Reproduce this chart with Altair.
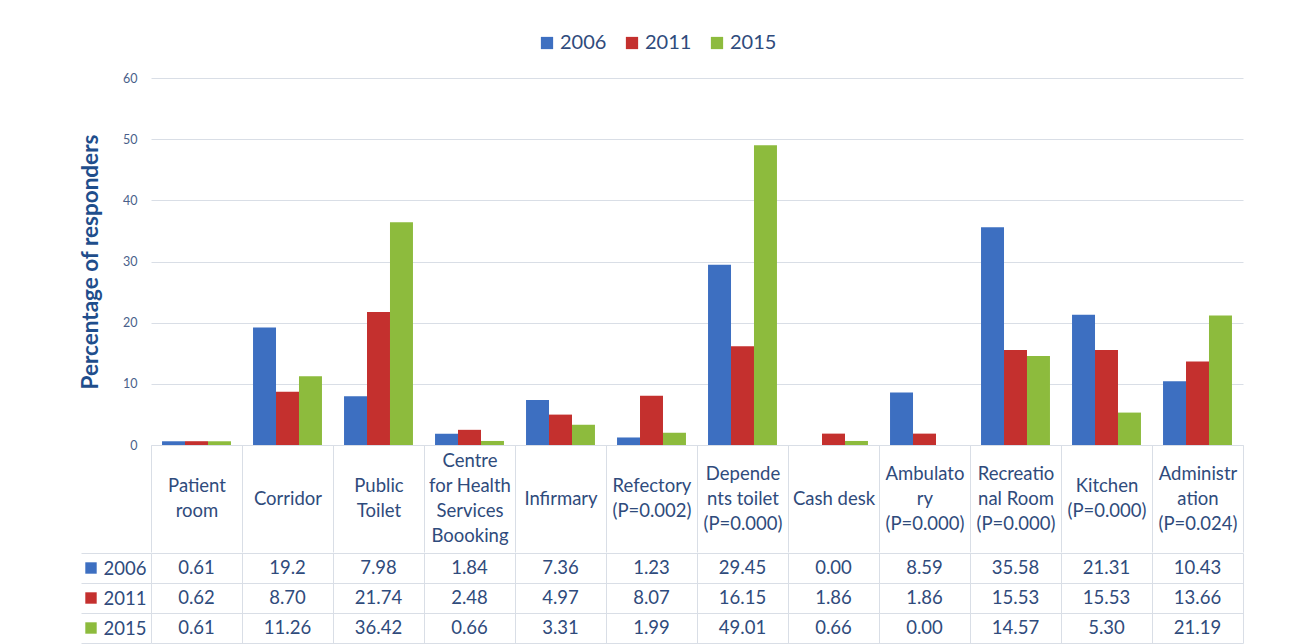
import json
import altair as alt
import pandas as pd

categories = [
    "Patient room", "Corridor", "Public Toilet", "Centre for Health Services Boooking",
    "Infirmary", "Refectory (P=0.002)", "Dependents toilet (P=0.000)", "Cash desk",
    "Ambulatory (P=0.000)", "Recreational Room (P=0.000)", "Kitchen (P=0.000)",
    "Administration (P=0.024)",
]
category_lines = [
    ["Patient", "room"], ["Corridor"], ["Public", "Toilet"],
    ["Centre", "for Health", "Services", "Boooking"], ["Infirmary"],
    ["Refectory", "(P=0.002)"], ["Depende", "nts toilet", "(P=0.000)"], ["Cash desk"],
    ["Ambulato", "ry", "(P=0.000)"], ["Recreatio", "nal Room", "(P=0.000)"],
    ["Kitchen", "(P=0.000)"], ["Administr", "ation", "(P=0.024)"],
]
years = ["2006", "2011", "2015"]
vals_2006 = ["0.61", "19.2", "7.98", "1.84", "7.36", "1.23", "29.45", "0.00", "8.59", "35.58", "21.31", "10.43"]
vals_2011 = ["0.62", "8.70", "21.74", "2.48", "4.97", "8.07", "16.15", "1.86", "1.86", "15.53", "15.53", "13.66"]
vals_2015 = ["0.61", "11.26", "36.42", "0.66", "3.31", "1.99", "49.01", "0.66", "0.00", "14.57", "5.30", "21.19"]
colors = ["#3D6FC1", "#C4302E", "#8DBB3D"]
y_ticks = [0, 10, 20, 30, 40, 50, 60]

rows = []
for yr, vals in zip(years, [vals_2006, vals_2011, vals_2015]):
    for c, v in zip(categories, vals):
        rows.append({"category": c, "year": yr, "label": v, "value": float(v)})
df = pd.DataFrame(rows)
df_years = pd.DataFrame({"year": years})

FONT = "Lato"
TEXT = "#2F4B7C"
GRID = "#D9DEE6"
LINE_H = 25

# multi-line category labels, each block vertically centred in the header cell
label_map = {c: lines for c, lines in zip(categories, category_lines)}
label_expr = "(" + json.dumps(label_map) + ")[datum.label]"
pad_conditions = []
for n in sorted(set(len(l) for l in category_lines)):
    names = [c for c, l in zip(categories, category_lines) if len(l) == n]
    pad_conditions.append({
        "test": "indexof(" + json.dumps(names) + ", datum.value) >= 0",
        "value": -54 - (n - 1) * LINE_H / 2,
    })

color_scale = alt.Scale(domain=years, range=colors)

bars = alt.Chart(df).mark_bar().encode(
    x=alt.X("category:N", sort=categories,
            scale=alt.Scale(paddingInner=0, paddingOuter=0),
            axis=alt.Axis(title=None, labelExpr=label_expr, labelAngle=0,
                          labelBaseline="middle", labelAlign="center",
                          labelPadding={"condition": pad_conditions, "value": -54},
                          labelFontSize=18.5, labelColor=TEXT, labelLineHeight=LINE_H,
                          labelOverlap=False, labelBound=False, labelFlush=False, labelLimit=0,
                          tickBand="extent", tickSize=107, tickColor=GRID, domainColor=GRID)),
    xOffset=alt.XOffset("year:N", sort=years,
                        scale=alt.Scale(paddingInner=0, paddingOuter=0.48)),
    y=alt.Y("value:Q", scale=alt.Scale(domain=[0, 60]),
            axis=alt.Axis(values=y_ticks, title="Percentage of responders",
                          titleFontSize=22.5, titleFontWeight="bold", titleColor="#1F4E8C",
                          titlePadding=20, labelFontSize=12.5, labelColor="#4A5F8A",
                          labelPadding=14, ticks=False, domain=False,
                          gridColor=GRID)),
    color=alt.Color("year:N", scale=color_scale, title=None,
                    legend=alt.Legend(orient="none", direction="horizontal",
                                      legendX=386, legendY=-45,
                                      symbolType="square", symbolSize=150,
                                      symbolStrokeWidth=0, labelFontSize=20,
                                      labelColor=TEXT, columnPadding=15, labelOffset=3)),
).properties(width=1092, height=367)

table_text = alt.Chart(df).mark_text(fontSize=18.5, color=TEXT, font=FONT).encode(
    x=alt.X("category:N", sort=categories,
            scale=alt.Scale(paddingInner=0, paddingOuter=0),
            axis=alt.Axis(title=None, labels=False, ticks=False, domain=False, grid=True,
                          tickBand="extent", gridColor=GRID)),
    y=alt.Y("year:N", sort=years, scale=alt.Scale(paddingInner=0, paddingOuter=0),
            axis=alt.Axis(title=None, grid=True, tickBand="extent", gridColor=GRID,
                          tickSize=70, tickColor=GRID, domain=False, labelPadding=-65,
                          labelFontSize=18.5, labelColor=TEXT)),
    text="label:N",
)
keys = alt.Chart(df_years).mark_square(size=130, opacity=1).encode(
    x=alt.value(-60),
    y=alt.Y("year:N", sort=years),
    color=alt.Color("year:N", scale=color_scale, legend=None),
)
table = alt.layer(table_text, keys).properties(width=1092, height=90)

chart = alt.vconcat(bars, table, spacing=-10).properties(
    padding={"left": 71, "top": 25, "right": 5, "bottom": 5}
).configure(
    font=FONT, background="white"
).configure_view(stroke=None)

chart.save("out.html", embed_options={"renderer": "svg", "actions": False})
